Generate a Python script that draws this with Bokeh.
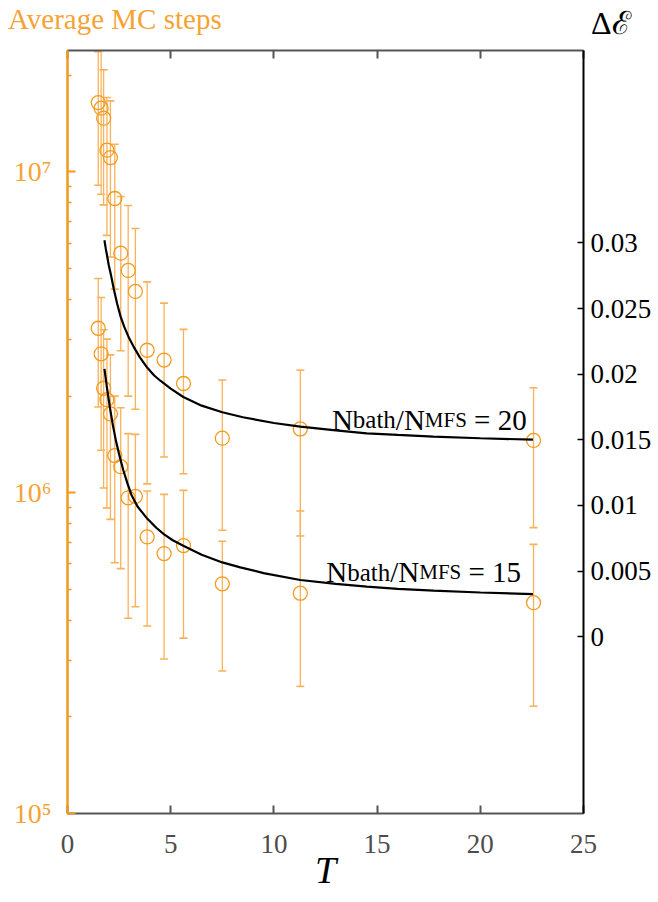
from bokeh.plotting import figure
from bokeh.layouts import column
from bokeh.models import (LinearAxis, Range1d, FixedTicker, LinearScale, Div,
                          ColumnDataSource, CustomJSTickFormatter)
from bokeh.embed import file_html
from bokeh.resources import INLINE
from bokeh.core.properties import value

# ---------------- data ----------------
T = [1.49, 1.63, 1.75, 1.91, 2.08, 2.29, 2.58, 2.94, 3.29, 3.86, 4.68, 5.62, 7.50, 11.28, 22.58]

# N_bath/N_MFS = 20 : average MC steps, error bar top / bottom
steps20 = [1.645e7, 1.58e7, 1.47e7, 1.169e7, 1.108e7, 8.26e6, 5.58e6, 4.93e6, 4.24e6,
           2.78e6, 2.59e6, 2.19e6, 1.479e6, 1.58e6, 1.455e6]
top20 = [2.37e7, 2.7e7, 2.08e7, 1.705e7, 1.665e7, 1.22e7, 8.38e6, 7.86e6, 6.66e6,
         4.54e6, 3.90e6, 3.23e6, 2.246e6, 2.41e6, 2.125e6]
bot20 = [9.09e6, 8.52e6, 7.89e6, 6.34e6, 5.43e6, 4.31e6, 2.77e6, 2.00e6, 1.82e6,
         1.065e6, 1.292e6, 1.146e6, 7.64e5, 7.33e5, 7.78e5]

# N_bath/N_MFS = 15
steps15 = [3.255e6, 2.71e6, 2.116e6, 1.95e6, 1.76e6, 1.305e6, 1.205e6, 9.64e5, 9.74e5,
           7.28e5, 6.46e5, 6.84e5, 5.2e5, 4.86e5, 4.54e5]
top15 = [4.65e6, 4.06e6, 3.22e6, 3.01e6, 2.69e6, 2.00e6, 1.84e6, 1.528e6, 1.52e6,
         1.012e6, 9.88e5, 1.017e6, 7.06e5, 8.77e5, 6.90e5]
bot15 = [1.85e6, 1.356e6, 1.034e6, 8.97e5, 8.26e5, 6.05e5, 5.80e5, 4.06e5, 4.41e5,
         3.84e5, 3.03e5, 3.52e5, 2.78e5, 2.49e5, 2.16e5]

# Delta-E curves (right axis)
curve20_T = [1.79, 1.85, 1.92, 2.00, 2.10, 2.24, 2.40, 2.57, 2.75, 2.97, 3.20, 3.50, 3.86,
             4.20, 4.50, 5.00, 5.61, 6.50, 7.50, 8.50, 10.0, 11.28, 13.0, 14.5, 16.0,
             17.73, 20.0, 22.55]
curve20_dE = [0.0302, 0.0296, 0.0290, 0.0283, 0.0276, 0.0265, 0.0254, 0.0244, 0.0236,
              0.0228, 0.0221, 0.0213, 0.0205, 0.0199, 0.0195, 0.0189, 0.01826, 0.0176,
              0.0171, 0.01672, 0.01628, 0.0160, 0.01572, 0.01549, 0.01537, 0.01524,
              0.01512, 0.01501]
curve15_T = [1.79, 1.90, 2.05, 2.20, 2.35, 2.50, 2.70, 2.90, 3.10, 3.40, 3.86, 4.30, 4.68,
             5.10, 5.61, 6.50, 7.50, 8.37, 9.50, 11.28, 13.0, 14.5, 16.0, 17.73, 20.0, 22.55]
curve15_dE = [0.0204, 0.0191, 0.0175, 0.0161, 0.0149, 0.0139, 0.0127, 0.0117, 0.0108,
              0.0099, 0.0090, 0.0083, 0.0078, 0.00735, 0.00693, 0.00625, 0.00566,
              0.00528, 0.00485, 0.00432, 0.00402, 0.00381, 0.00365, 0.00351, 0.00337,
              0.00325]

x_ticks = [0, 5, 10, 15, 20, 25]
left_major = [1e5, 1e6, 1e7]
left_minor = [m * 10 ** e for e in (5, 6) for m in range(2, 10)] + [2e7]
right_ticks = [0, 0.005, 0.01, 0.015, 0.02, 0.025, 0.03]

label_parts = ["N", "bath", "/", "N", "MFS", "= 20"]
label_parts15 = ["N", "bath", "/", "N", "MFS", "= 15"]

left_title = "Average MC steps"
right_title = "\u0394\u2130"

# ---------------- style ----------------
ORANGE = "#F39A1E"
ORANGE_TXT = "#F6A336"
ORANGE_BAR = "#F8B25A"
GRAY = "#555555"
SERIF = "Liberation Serif"
W = 656
HEAD_H = 37
TOTAL_H = 902

# ---------------- header strip (titles above the frame) ----------------
head_html = (
    f'<div style="position:relative;width:{W}px;height:{HEAD_H}px;'
    f'font-family:\'{SERIF}\',serif;line-height:1;">'
    f'<span style="position:absolute;left:8px;top:5px;font-size:29px;color:{ORANGE_TXT};'
    f'white-space:nowrap;">{left_title}</span>'
    f'<span style="position:absolute;left:591px;top:7px;font-size:32px;color:black;'
    f'white-space:nowrap;">{right_title}</span></div>'
)
head = Div(text=head_html, width=W, height=HEAD_H, margin=(0, 0, 0, 0))

# ---------------- main plot ----------------
p = figure(width=W, height=TOTAL_H - HEAD_H, output_backend="svg", toolbar_location=None,
           y_axis_type="log", x_range=Range1d(0, 25), y_range=Range1d(1e5, 2.39e7),
           min_border_left=67, min_border_right=73, min_border_top=13, min_border_bottom=89)
p.extra_y_ranges = {"de": Range1d(-0.013465, 0.044654)}
p.extra_y_scales = {"de": LinearScale()}
p.grid.visible = False
p.outline_line_color = None
p.background_fill_color = "white"
p.border_fill_color = "white"

# bottom axis
xa = p.xaxis[0]
xa.ticker = FixedTicker(ticks=x_ticks)
xa.axis_line_color = GRAY
xa.axis_line_width = 2
xa.major_tick_line_color = GRAY
xa.major_tick_line_width = 2
xa.major_tick_in = 8
xa.major_tick_out = 0
xa.minor_tick_line_color = None
xa.major_label_text_font = SERIF
xa.major_label_text_font_size = "27px"
xa.major_label_text_color = "#4D4D4D"
xa.major_label_standoff = 21
xa.axis_label = "T"
xa.axis_label_text_font = SERIF
xa.axis_label_text_font_size = "38px"
xa.axis_label_text_font_style = "italic"
xa.axis_label_text_color = "black"
xa.axis_label_standoff = -7

# top axis (ticks only)
ta = LinearAxis(ticker=FixedTicker(ticks=x_ticks), axis_line_color=GRAY, axis_line_width=2,
                major_tick_line_color=GRAY, major_tick_line_width=2, major_tick_in=8,
                major_tick_out=0, minor_tick_line_color=None,
                formatter=CustomJSTickFormatter(code="return '';"),
                major_label_text_font_size="6px", major_label_standoff=0)
p.add_layout(ta, "above")

# left log axis
ya = p.yaxis[0]
ya.ticker = FixedTicker(ticks=left_major, minor_ticks=left_minor)
ya.formatter = CustomJSTickFormatter(code="""
const sup = ['\u2070','\u00b9','\u00b2','\u00b3','\u2074','\u2075','\u2076','\u2077','\u2078','\u2079'];
return '10' + sup[Math.round(Math.log10(tick))];
""")
ya.axis_line_color = ORANGE
ya.axis_line_width = 2.5
ya.major_tick_line_color = ORANGE
ya.major_tick_line_width = 2
ya.major_tick_in = 8
ya.major_tick_out = 0
ya.minor_tick_line_color = ORANGE
ya.minor_tick_line_width = 1.5
ya.minor_tick_in = 4
ya.minor_tick_out = 0
ya.major_label_text_font = SERIF
ya.major_label_text_font_size = "28px"
ya.major_label_text_color = ORANGE_TXT
ya.major_label_standoff = 16

# right linear axis
ra = LinearAxis(y_range_name="de", ticker=FixedTicker(ticks=right_ticks),
                formatter=CustomJSTickFormatter(code="return String(parseFloat(tick.toFixed(3)));"),
                axis_line_color="black", axis_line_width=2,
                major_tick_line_color="black", major_tick_line_width=1.5,
                major_tick_in=6, major_tick_out=0, minor_tick_line_color=None,
                major_label_text_font=SERIF, major_label_text_font_size="27px",
                major_label_text_color="black", major_label_standoff=7)
p.add_layout(ra, "right")

# ---------------- error bars + markers ----------------
for vals, tops, bots in ((steps20, top20, bot20), (steps15, top15, bot15)):
    src = ColumnDataSource(dict(x=T, y=vals, top=tops, bot=bots))
    p.segment(x0="x", y0="bot", x1="x", y1="top", source=src,
              line_color=ORANGE_BAR, line_width=1.3)
    p.scatter(x="x", y="top", source=src, marker="dash", size=8,
              line_color=ORANGE_BAR, line_width=1.6)
    p.scatter(x="x", y="bot", source=src, marker="dash", size=8,
              line_color=ORANGE_BAR, line_width=1.6)
    p.scatter(x="x", y="y", source=src, marker="circle", size=14,
              fill_color=None, line_color=ORANGE, line_width=1.3)

# ---------------- curves ----------------
p.line(curve20_T, curve20_dE, y_range_name="de", line_color="black", line_width=2.2)
p.line(curve15_T, curve15_dE, y_range_name="de", line_color="black", line_width=2.2)

# ---------------- curve labels ----------------
offsets = [0, 20.9, 63.95, 72.0, 92.9, 142.15]
sizes = ["29px", "25px", "29px", "29px", "21px", "29px"]
for parts, lx, ly in ((label_parts, 12.81, 0.016513), (label_parts15, 12.54, 0.0049)):
    lsrc = ColumnDataSource(dict(x=[lx] * len(parts), y=[ly] * len(parts), text=parts,
                                 xo=offsets, fs=sizes))
    p.text(x="x", y="y", text="text", x_offset="xo", text_font_size="fs", source=lsrc,
           y_range_name="de", text_font=value(SERIF), text_color="black",
           text_baseline="alphabetic", text_align="left")

layout = column(head, p, spacing=0)
open("out.html", "w").write(file_html(layout, INLINE))
